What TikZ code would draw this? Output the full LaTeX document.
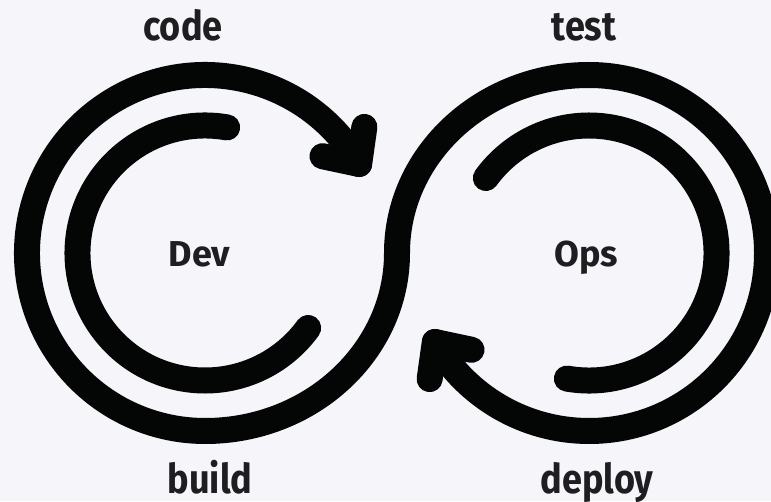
\documentclass[tikz,border=0pt]{standalone}
\usepackage{fontspec}
\usetikzlibrary{calc}
\newfontfamily\stagefont{Fira Sans}[FakeStretch=0.88]
\newfontfamily\sidefont{Fira Sans}
\definecolor{canvas}{RGB}{245,245,250}
\definecolor{ink}{RGB}{4,5,5}
\definecolor{labelink}{RGB}{30,30,32}
\tikzset{
  loopline/.style={draw=ink, line width=26pt, line cap=round, line join=round},
  stage/.style={text=labelink, inner sep=0pt, anchor=base,
    font={\stagefont\bfseries\fontsize{41}{41}\selectfont}},
  side/.style={text=labelink, inner sep=0pt, anchor=base,
    font={\sidefont\bfseries\fontsize{36}{36}\selectfont}},
}
\begin{document}
\begin{tikzpicture}[x=1pt,y=1pt]
\fill[canvas] (0,0) rectangle (771,501);
\useasboundingbox (0,0) rectangle (771,501);
% centres of the two loops
\coordinate (L) at (205,248);
\coordinate (R) at (589,248);
\coordinate (tipL) at ($(L)+(30:178)$);
\coordinate (tipR) at ($(R)+(210:178)$);
% outer figure-eight
\draw[loopline] (tipL) arc[start angle=30, end angle=270, radius=178]
  arc[start angle=270, end angle=360, x radius=192, y radius=178]
  arc[start angle=180, end angle=90, x radius=192, y radius=178]
  arc[start angle=90, end angle=-150, radius=178];
% open chevron heads at both ends
\draw[loopline] ($(tipL)+(82:37.5)$) -- (tipL) -- ($(tipL)+(168:37.5)$);
\draw[loopline] ($(tipR)+(262:37.5)$) -- (tipR) -- ($(tipR)+(348:37.5)$);
% inner arcs
\draw[loopline] ($(L)+(80:127.5)$) arc[start angle=80, end angle=324, radius=127.5];
\draw[loopline] ($(R)+(260:127.5)$) arc[start angle=260, end angle=504, radius=127.5];
% labels
\node[stage] (code) at (183,460) {code};
\node[stage] (test) at (584,460) {test};
\node[stage] (build) at (210,8) {build};
\node[stage] (deploy) at (597,8) {deploy};
\node[side] (dev) at (199.5,234) {Dev};
\node[side] (ops) at (586,234) {Ops};
\end{tikzpicture}
\end{document}
